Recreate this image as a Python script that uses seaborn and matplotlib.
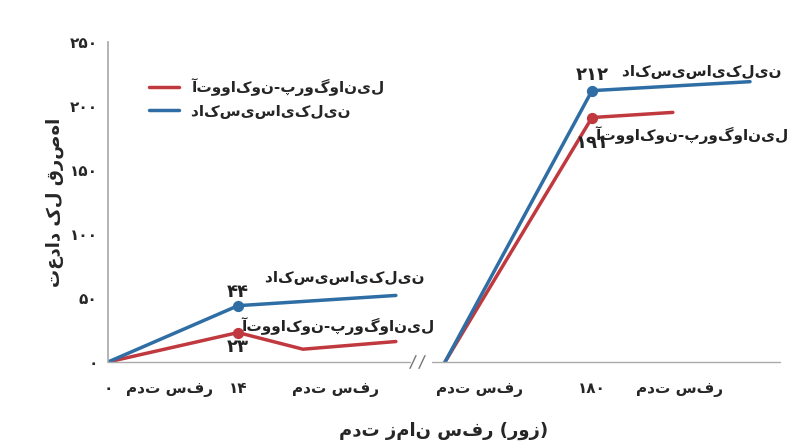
import matplotlib
matplotlib.use("Agg")
import matplotlib.pyplot as plt
import seaborn as sns
import pandas as pd

sns.set_theme(style="white")
plt.rcParams['font.family'] = ['DejaVu Sans']

RED = "#c0393f"
BLUE = "#2f6ea5"
name_a = "آتوواکون-پروگوانیل"
name_d = "داکسی‌سایکلین"

# left segment (days)
left_days_d = [0, 14, 31]
left_vals_d = [0, 44, 52]
left_days_a = [0, 14, 21, 31]
left_vals_a = [0, 23, 10, 16]
# right segment (days)
right_days_d = [160, 180, 201.5]
right_vals_d = [0, 212, 219]
right_days_a = [160, 180, 191]
right_vals_a = [0, 191, 195]

yticks = [0, 50, 100, 150, 200, 250]
ytick_labels = ["۰", "۵۰", "۱۰۰", "۱۵۰", "۲۰۰", "۲۵۰"]

def lx(d):  # left segment mapping
    return 108 + d * 130 / 14
def rx(d):  # right segment mapping
    return 592 + (d - 180) * 147 / 20

fig = plt.figure(figsize=(8, 4.47), dpi=100)
ax = fig.add_axes([108/800, 1-362/447, (780-108)/800, 320/447])

def seg(days, vals, f, color, label=None):
    df = pd.DataFrame({"x": [f(d) for d in days], "y": vals})
    sns.lineplot(data=df, x="x", y="y", ax=ax, color=color, lw=2.5, label=label, legend=False)

seg(left_days_a, left_vals_a, lx, RED, name_a)
seg(left_days_d, left_vals_d, lx, BLUE, name_d)
seg(right_days_a, right_vals_a, rx, RED)
seg(right_days_d, right_vals_d, rx, BLUE)

ax.scatter([lx(14), rx(180)], [left_vals_a[1], right_vals_a[1]], color=RED, s=50, zorder=5)
ax.scatter([lx(14), rx(180)], [left_vals_d[1], right_vals_d[1]], color=BLUE, s=50, zorder=5)

kw = dict(fontsize=13, fontweight="bold", ha="center", va="center", color="#222")
ax.text(lx(14), 55, "۴۴", **kw)
ax.text(lx(14), 12, "۲۳", **kw)
ax.text(rx(180), 224, "۲۱۲", **kw)
ax.text(rx(180), 171, "۱۹۱", **kw)
kw2 = dict(fontsize=11, fontweight="bold", color="#222", ha="center", va="center")
ax.text(345, 66, name_d, **kw2)
ax.text(338, 28, name_a, **kw2)
ax.text(702, 227, name_d, **kw2)
ax.text(692, 177, name_a, **kw2)

ax.set_xlim(108, 780)
ax.set_ylim(0, 250)
ax.set_yticks(yticks)
ax.set_yticklabels(ytick_labels, fontsize=11, fontweight="bold")
ax.set_xticks([lx(0), lx(14), rx(180)])
ax.set_xticklabels(["۰", "۱۴", "۱۸۰"], fontsize=11, fontweight="bold")
ax.tick_params(axis="x", pad=10)
for x in [170, 335, 480, 680]:
    ax.text(x, -16, "مدت سفر", ha="center", va="top", fontsize=11, fontweight="bold")
ax.tick_params(axis="both", length=4, color="#999", direction="out")
for s in ["top", "right"]:
    ax.spines[s].set_visible(False)
for s in ["left", "bottom"]:
    ax.spines[s].set_color("#aaa")
# axis break
ax.spines["bottom"].set_visible(False)
ax.plot([108, 410], [0, 0], color="#aaa", lw=1, clip_on=False)
ax.plot([432, 780], [0, 0], color="#aaa", lw=1, clip_on=False)
for x in [413, 422]:
    ax.plot([x - 3, x + 3], [-5, 5], color="#777", lw=1, clip_on=False)

ax.set_xlabel("مدت زمان سفر (روز)", fontsize=13, fontweight="bold", labelpad=18)
ax.set_ylabel("تعداد کل قرص‌ها", fontsize=13, fontweight="bold")
ax.legend(loc="upper left", bbox_to_anchor=(0.04, 0.93), frameon=False,
          prop={"weight": "bold", "size": 11}, handlelength=2)

fig.savefig("out.png", dpi=100)
